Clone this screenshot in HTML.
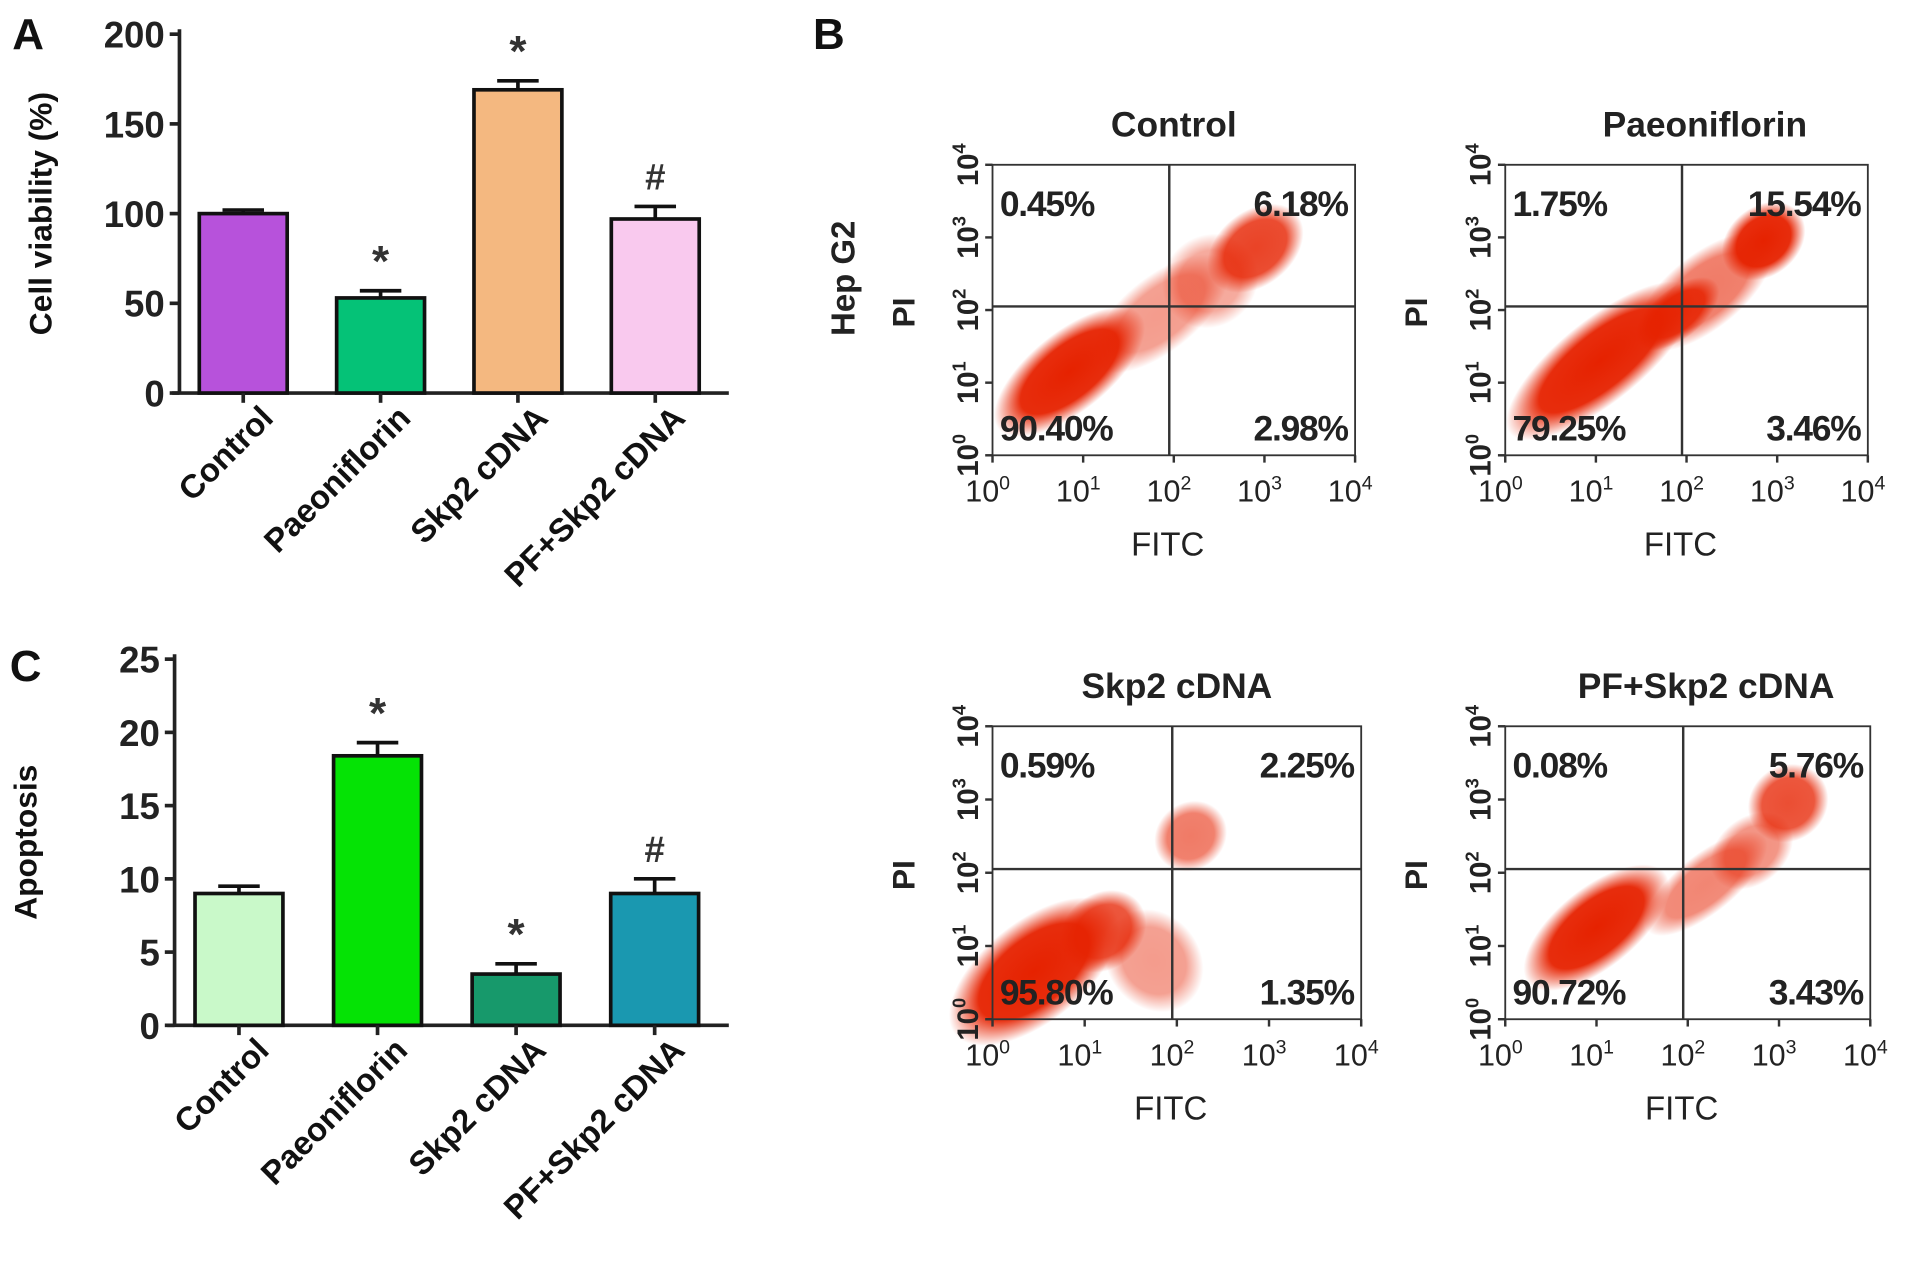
<!DOCTYPE html>
<html><head><meta charset="utf-8"><style>
html,body{margin:0;padding:0;background:#fff;}
svg{display:block;font-family:"Liberation Sans",Arial,sans-serif;}
</style></head><body>
<svg id="fig" width="1913" height="1278" viewBox="0 0 1567 1047" preserveAspectRatio="none" xmlns="http://www.w3.org/2000/svg">
<defs>
<radialGradient id="dot" cx="50%" cy="50%" r="50%">
<stop offset="0" stop-color="#e62200" stop-opacity="1"/>
<stop offset="0.65" stop-color="#e62200" stop-opacity="0.95"/>
<stop offset="1" stop-color="#e62200" stop-opacity="0"/>
</radialGradient>
</defs>
<g font-weight="bold" font-size="36" fill="#111">
<text x="10" y="40">A</text>
<text x="666" y="40">B</text>
<text x="8" y="558">C</text>
</g>
<g id="chartA"></g>
<g id="chartC"></g>
<g id="flow"></g>
</svg>
<script>
const NS="http://www.w3.org/2000/svg";
const categories=["Control","Paeoniflorin","Skp2 cDNA","PF+Skp2 cDNA"];
const viabilityValues=[100,53,169,97];
const viabilityErrors=[2,4,5,7];
const viabilityMarks=["","*","*","#"];
const viabilityTicks=[0,50,100,150,200];
const apoptosisValues=[9,18.4,3.5,9];
const apoptosisErrors=[0.5,0.9,0.7,1.0];
const apoptosisMarks=["","*","*","#"];
const apoptosisTicks=[0,5,10,15,20,25];
const flowTitles=["Control","Paeoniflorin","Skp2 cDNA","PF+Skp2 cDNA"];
const flowUL=["0.45%","1.75%","0.59%","0.08%"];
const flowUR=["6.18%","15.54%","2.25%","5.76%"];
const flowLL=["90.40%","79.25%","95.80%","90.72%"];
const flowLR=["2.98%","3.46%","1.35%","3.43%"];
// clusters: [log FITC, log PI, length(decades), width(decades), opacity]
const flowClusters=[
 [[0.85,1.15,1.1,0.48,1],[1.85,1.95,1.0,0.45,0.45],[2.9,2.85,0.65,0.45,0.85],[2.4,2.4,0.6,0.55,0.4]],
 [[1.05,1.3,1.4,0.5,1],[2.2,2.25,1.0,0.45,0.6],[2.85,2.95,0.55,0.42,1],[1.9,1.95,0.6,0.3,0.9]],
 [[0.45,0.65,1.2,0.6,1],[1.75,0.8,0.55,0.65,0.45],[2.15,2.5,0.45,0.4,0.6],[1.2,1.2,0.55,0.45,0.8]],
 [[1.0,1.25,1.05,0.48,1],[2.2,1.85,0.9,0.35,0.55],[3.1,2.95,0.5,0.45,0.8],[2.7,2.3,0.55,0.4,0.5]]
];
function el(parent,tag,attrs,text){const e=document.createElementNS(NS,tag);for(const k in attrs)e.setAttribute(k,attrs[k]);if(text!==undefined)e.textContent=text;parent.appendChild(e);return e;}

function barChart(gid,cfg){
  const g=document.getElementById(gid);
  const {x0,x1,yTop,yZero,maxV,vals,errs,marks,ticks,colors,title,titleX,bw}=cfg;
  const y=v=>yZero-(v/maxV)*(yZero-yTop);
  const step=(x1-x0)/categories.length;
  const cx=i=>x0+step*(i+0.5)-4;
  const ax=el(g,'line',{x1:x0,y1:yTop-4,x2:x0,y2:yZero,stroke:'#222','stroke-width':3});
  
  const bx=el(g,'line',{x1:x0-6,y1:yZero,x2:x1,y2:yZero,stroke:'#222','stroke-width':3});
  
  ticks.forEach(t=>{
    el(g,'line',{x1:x0-8,y1:y(t),x2:x0,y2:y(t),stroke:'#222','stroke-width':3});
    const tl=el(g,'text',{x:x0-12,y:y(t)+11,'text-anchor':'end','font-size':30,'font-weight':'bold',fill:'#222'},t);
    
  });
  const tt=el(g,'text',{transform:`translate(${titleX},${(yTop+yZero)/2}) rotate(-90)`,'text-anchor':'middle','font-size':26,'font-weight':'bold',fill:'#111'},title);
  
  vals.forEach((v,i)=>{
    const c=cx(i);
    const eb=el(g,'path',{d:`M${c},${y(v)} V${y(v+errs[i])} M${c-17},${y(v+errs[i])} H${c+17}`,stroke:'#111','stroke-width':3,fill:'none'});
    
    const r=el(g,'rect',{x:c-bw/2,y:y(v),width:bw,height:yZero-y(v),fill:colors[i],stroke:'#111','stroke-width':3});
    
    
    el(g,'line',{x1:c,y1:yZero,x2:c,y2:yZero+8,stroke:'#222','stroke-width':3});
    if(marks[i]){const m=el(g,'text',{x:c,y:y(v+errs[i])-(marks[i]=='*'?12:14),'text-anchor':'middle','font-size':marks[i]=='*'?36:30,'font-weight':'bold',fill:'#333'},marks[i]);
      }
    const lab=el(g,'text',{transform:`translate(${c+26},${yZero+22}) rotate(-45)`,'text-anchor':'end','font-size':27,'font-weight':'bold',fill:'#111'},categories[i]);
    
  });
}
barChart('chartA',{x0:147,x1:597,yTop:28,yZero:322,maxV:200,vals:viabilityValues,errs:viabilityErrors,marks:viabilityMarks,ticks:viabilityTicks,colors:['#b752db','#05c277','#f4b880','#f9c9ee'],title:'Cell viability (%)',titleX:42,bw:72});
barChart('chartC',{x0:143,x1:597,yTop:540,yZero:840,maxV:25,vals:apoptosisValues,errs:apoptosisErrors,marks:apoptosisMarks,ticks:apoptosisTicks,colors:['#c9f9c9','#05e305','#17996b','#1a98b0'],title:'Apoptosis',titleX:30,bw:72});

const boxes=[[813,135,1110,373],[1233,135,1530,373],[813,595,1115,835],[1233,595,1532,835]];
const flow=document.getElementById('flow');
boxes.forEach((b,p)=>{
  const [x0,y0,x1,y1]=b;
  const g=el(flow,'g',{});
  
  const fx=l=>x0+l/4*(x1-x0), fy=l=>y1-l/4*(y1-y0);
  const dX=(x1-x0)/4, dY=(y1-y0)/4, ang=-Math.atan2(dY,dX)*180/Math.PI, diag=Math.hypot(dX,dY);
  flowClusters[p].forEach(c=>{
    const e=el(g,'ellipse',{cx:fx(c[0]),cy:fy(c[1]),rx:c[2]*diag/1.4,ry:c[3]*diag/1.4,fill:'url(#dot)',opacity:c[4],transform:`rotate(${ang} ${fx(c[0])} ${fy(c[1])})`});
    
  });
  el(g,'rect',{x:x0,y:y0,width:x1-x0,height:y1-y0,fill:'none',stroke:'#333','stroke-width':1.5});
  const qx=fx(1.95), qy=fy(2.05);
  el(g,'line',{x1:x0,y1:qy,x2:x1,y2:qy,stroke:'#333','stroke-width':2});
  el(g,'line',{x1:qx,y1:y0,x2:qx,y2:y1,stroke:'#333','stroke-width':2});
  for(let k=0;k<=4;k++){
    el(g,'line',{x1:x0-6,y1:fy(k),x2:x0,y2:fy(k),stroke:'#333','stroke-width':2});
    el(g,'line',{x1:fx(k),y1:y1,x2:fx(k),y2:y1+6,stroke:'#333','stroke-width':2});
    const yl=el(g,'text',{transform:`translate(${x0-12},${fy(k)}) rotate(-90)`,'text-anchor':'middle','font-size':24,'font-weight':'bold',fill:'#222'});
    
    yl.innerHTML=`10<tspan dy="-10" font-size="15">${k}</tspan>`;
    const xl=el(g,'text',{x:fx(k)-4,y:y1+38,'text-anchor':'middle','font-size':25,fill:'#222'});
    
    xl.innerHTML=`10<tspan dy="-10" font-size="16">${k}</tspan>`;
  }
  const t=el(g,'text',{x:(x0+x1)/2+(p%2?15:0),y:y0-23,'text-anchor':'middle','font-size':29,'font-weight':'bold',fill:'#222'},flowTitles[p]);
  
  const fl=el(g,'text',{x:(x0+x1)/2-5,y:y1+82,'text-anchor':'middle','font-size':27,fill:'#222'},'FITC');
  
  const pl=el(g,'text',{transform:`translate(${x0-64},${qy+5}) rotate(-90)`,'text-anchor':'middle','font-size':26,'font-weight':'bold',fill:'#222'},'PI');
  
  const q=[[flowUL[p],x0+6,y0+42,'start'],[flowUR[p],x1-6,y0+42,'end'],[flowLL[p],x0+6,y1-12,'start'],[flowLR[p],x1-6,y1-12,'end']];
  q.forEach(a=>{const qt=el(g,'text',{x:a[1],y:a[2],'text-anchor':a[3],'font-size':29,'font-weight':'bold',fill:'#222','letter-spacing':'-1'},a[0]);
    });
});
const hep=el(flow,'text',{transform:'translate(700,228) rotate(-90)','text-anchor':'middle','font-size':27,'font-weight':'bold',fill:'#222'},'Hep G2');


</script>
</body></html>
